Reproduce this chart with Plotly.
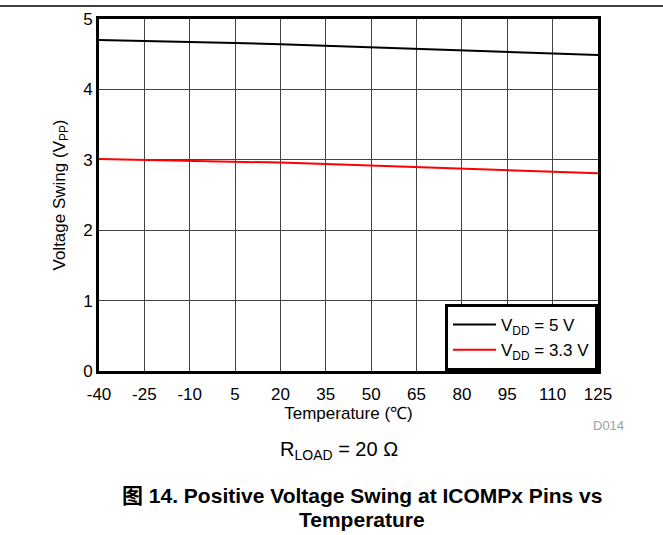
import plotly.graph_objects as go

temps = [-40, -25, -10, 5, 20, 35, 50, 65, 80, 95, 110, 125]
vdd5 = [4.70, 4.69, 4.68, 4.66, 4.64, 4.62, 4.60, 4.58, 4.56, 4.54, 4.52, 4.49]
vdd33 = [3.01, 3.00, 2.99, 2.97, 2.96, 2.94, 2.92, 2.90, 2.88, 2.86, 2.84, 2.81]
x_ticks = [-40, -25, -10, 5, 20, 35, 50, 65, 80, 95, 110, 125]
y_ticks = [0, 1, 2, 3, 4, 5]

FONT = "Liberation Sans, Arial, sans-serif"

fig = go.Figure()
fig.add_trace(go.Scatter(x=temps, y=vdd5, mode="lines", name="V<sub>DD</sub> = 5 V",
                         line=dict(color="black", width=2)))
fig.add_trace(go.Scatter(x=temps, y=vdd33, mode="lines", name="V<sub>DD</sub> = 3.3 V",
                         line=dict(color="#ff0000", width=2)))

L, R, T, B = 99, 65, 19, 164
W, H = 663, 535
pw, ph = W - L - R, H - T - B

def px(xp):
    return (xp - L) / pw

def py(yp):
    return (H - B - yp) / ph

fig.update_layout(
    width=W, height=H,
    margin=dict(l=L, r=R, t=T, b=B, autoexpand=False),
    plot_bgcolor="white", paper_bgcolor="white",
    font=dict(family=FONT, color="black", size=17),
    showlegend=True,
    legend=dict(x=1, xanchor="right", y=0, yanchor="bottom",
                bordercolor="black", borderwidth=3, bgcolor="white",
                font=dict(size=17), tracegroupgap=0,
                itemwidth=43),
    xaxis=dict(range=[-40, 125], tickvals=x_ticks, ticktext=[str(t) for t in x_ticks],
               showgrid=True, gridcolor="#444444", gridwidth=1,
               showline=True, linecolor="black", linewidth=3, mirror=True,
               ticks="", zeroline=False, ticklabelstandoff=6,
               title=dict(text="Temperature (℃)", font=dict(size=17), standoff=0),
               tickfont=dict(size=17)),
    yaxis=dict(range=[0, 5], tickvals=y_ticks,
               showgrid=True, gridcolor="#444444", gridwidth=1,
               showline=True, linecolor="black", linewidth=3, mirror=True,
               ticks="", zeroline=False,
               title=dict(text="Voltage Swing (V<sub>PP</sub>)", font=dict(size=17), standoff=14),
               tickfont=dict(size=17)),
    shapes=[dict(type="line", xref="paper", yref="paper",
                 x0=px(0), x1=px(W), y0=py(6), y1=py(6),
                 line=dict(color="black", width=1.5))],
    annotations=[
        dict(text="D014", xref="paper", yref="paper", x=px(608), y=py(425),
             xanchor="center", yanchor="middle",
             showarrow=False, font=dict(size=13, color="#a0a0a0")),
        dict(text="R<sub>LOAD</sub> = 20 Ω", xref="paper", yref="paper", x=px(339), y=py(450),
             xanchor="center", yanchor="middle",
             showarrow=False, font=dict(size=20)),
        dict(text="<b>图 14. Positive Voltage Swing at ICOMPx Pins vs</b>",
             xref="paper", yref="paper", x=px(362), y=py(496),
             xanchor="center", yanchor="middle",
             showarrow=False, font=dict(size=21, family="Liberation Sans, Noto Sans CJK SC, sans-serif")),
        dict(text="<b>Temperature</b>",
             xref="paper", yref="paper", x=px(362), y=py(519),
             xanchor="center", yanchor="middle",
             showarrow=False, font=dict(size=21, family="Liberation Sans, Noto Sans CJK SC, sans-serif")),
    ],
)

fig.write_html("out.html", config={"displayModeBar": False},
               post_script="document.body.style.margin='0';")
